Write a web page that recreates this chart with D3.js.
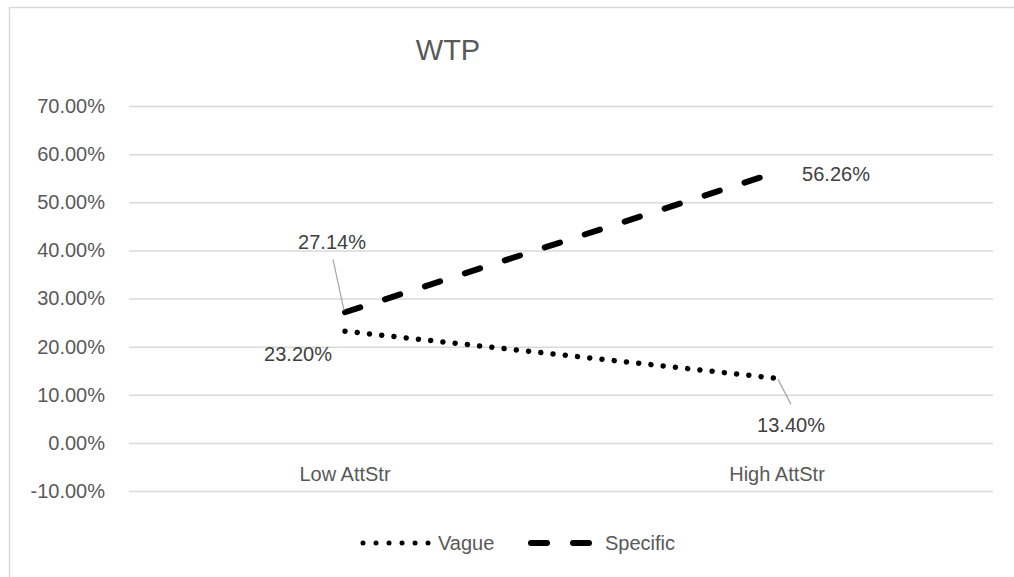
<!DOCTYPE html>
<html><head><meta charset="utf-8">
<script src="https://cdn.jsdelivr.net/npm/d3@7"></script>
<style>body{margin:0;background:#fff;} text{font-family:"Liberation Sans",Arial,sans-serif;}</style>
</head><body>
<svg id="c" width="1014" height="577"></svg>
<script>
const categories = ["Low AttStr", "High AttStr"];
const vague = [0.2320, 0.1340];
const specific = [0.2714, 0.5626];
const yTicks = [-0.1, 0, 0.1, 0.2, 0.3, 0.4, 0.5, 0.6, 0.7];
const seriesNames = ["Vague", "Specific"];
const chartTitle = "WTP";

(function () {
const svg = d3.select("#c");
svg.append("rect").attr("x", 9.5).attr("y", 7.5).attr("width", 1010).attr("height", 600)
  .attr("fill", "#fff").attr("stroke", "#d9d9d9").attr("stroke-width", 1.5);

const pL = 129, pR = 993, pT = 106, pB = 491;
const x = d3.scaleBand().domain(categories).range([pL, pR]).padding(0);
const y = d3.scaleLinear().domain([-0.1, 0.7]).range([pB, pT]);
const cx = d => x(d) + x.bandwidth() / 2;
const fmt = v => d3.format(".2%")(v).replace("\u2212", "-");
const FS = 20;

svg.append("text").attr("x", 448).attr("y", 60).attr("text-anchor", "middle")
  .attr("font-size", 29).attr("fill", "#595959").text(chartTitle);

const ya = svg.append("g").attr("transform", `translate(${pL},0)`)
  .call(d3.axisLeft(y).tickValues(yTicks).tickFormat(fmt)
    .tickSize(-(pR - pL)).tickPadding(24));
ya.select(".domain").remove();
ya.selectAll(".tick line").attr("stroke", "#d9d9d9").attr("stroke-width", 1.5);
ya.selectAll(".tick text").attr("font-size", FS).attr("fill", "#595959")
  .attr("font-family", "Liberation Sans, Arial, sans-serif");

const xa = svg.append("g").attr("transform", `translate(0,${y(0)})`)
  .call(d3.axisBottom(x).tickSize(0).tickPadding(24));
xa.select(".domain").remove();
xa.selectAll(".tick text").attr("font-size", FS).attr("fill", "#595959")
  .attr("font-family", "Liberation Sans, Arial, sans-serif");

const line = d3.line().x((d, i) => cx(categories[i])).y(d => y(d));

svg.append("path").datum(vague).attr("d", line).attr("fill", "none")
  .attr("stroke", "#000").attr("stroke-width", 5.5).attr("stroke-linecap", "round")
  .attr("stroke-dasharray", "0.01 12.3");
svg.append("path").datum(specific).attr("d", line).attr("fill", "none")
  .attr("stroke", "#000").attr("stroke-width", 6).attr("stroke-linecap", "round")
  .attr("stroke-dasharray", "16 26");

function label(val, i, dx, dy, leader) {
  const px = cx(categories[i]), py = y(val);
  if (leader) {
    svg.append("line").attr("x1", px + leader[0]).attr("y1", py + leader[1])
      .attr("x2", px + leader[2]).attr("y2", py + leader[3])
      .attr("stroke", "#a6a6a6").attr("stroke-width", 1.2);
  }
  svg.append("text").attr("x", px + dx).attr("y", py + dy).attr("text-anchor", "middle")
    .attr("dominant-baseline", "central").attr("font-size", FS).attr("fill", "#404040")
    .text(fmt(val));
}
label(specific[0], 0, -13, -70, [-1, -2, -12, -53]);
label(vague[0], 0, -47, 23, null);
label(specific[1], 1, 59, 2, null);
label(vague[1], 1, 14, 47, [1, 1, 14, 26]);

const ly = 543;
svg.append("line").attr("x1", 363).attr("x2", 429).attr("y1", ly).attr("y2", ly)
  .attr("stroke", "#000").attr("stroke-width", 5).attr("stroke-linecap", "round")
  .attr("stroke-dasharray", "0.01 13");
svg.append("text").attr("x", 438).attr("y", ly).attr("dominant-baseline", "central")
  .attr("font-size", FS).attr("fill", "#595959").text(seriesNames[0]);
svg.append("line").attr("x1", 531).attr("x2", 590).attr("y1", ly).attr("y2", ly)
  .attr("stroke", "#000").attr("stroke-width", 6).attr("stroke-linecap", "round")
  .attr("stroke-dasharray", "16 26");
svg.append("text").attr("x", 605).attr("y", ly).attr("dominant-baseline", "central")
  .attr("font-size", FS).attr("fill", "#595959").text(seriesNames[1]);
})();
</script>
</body></html>
